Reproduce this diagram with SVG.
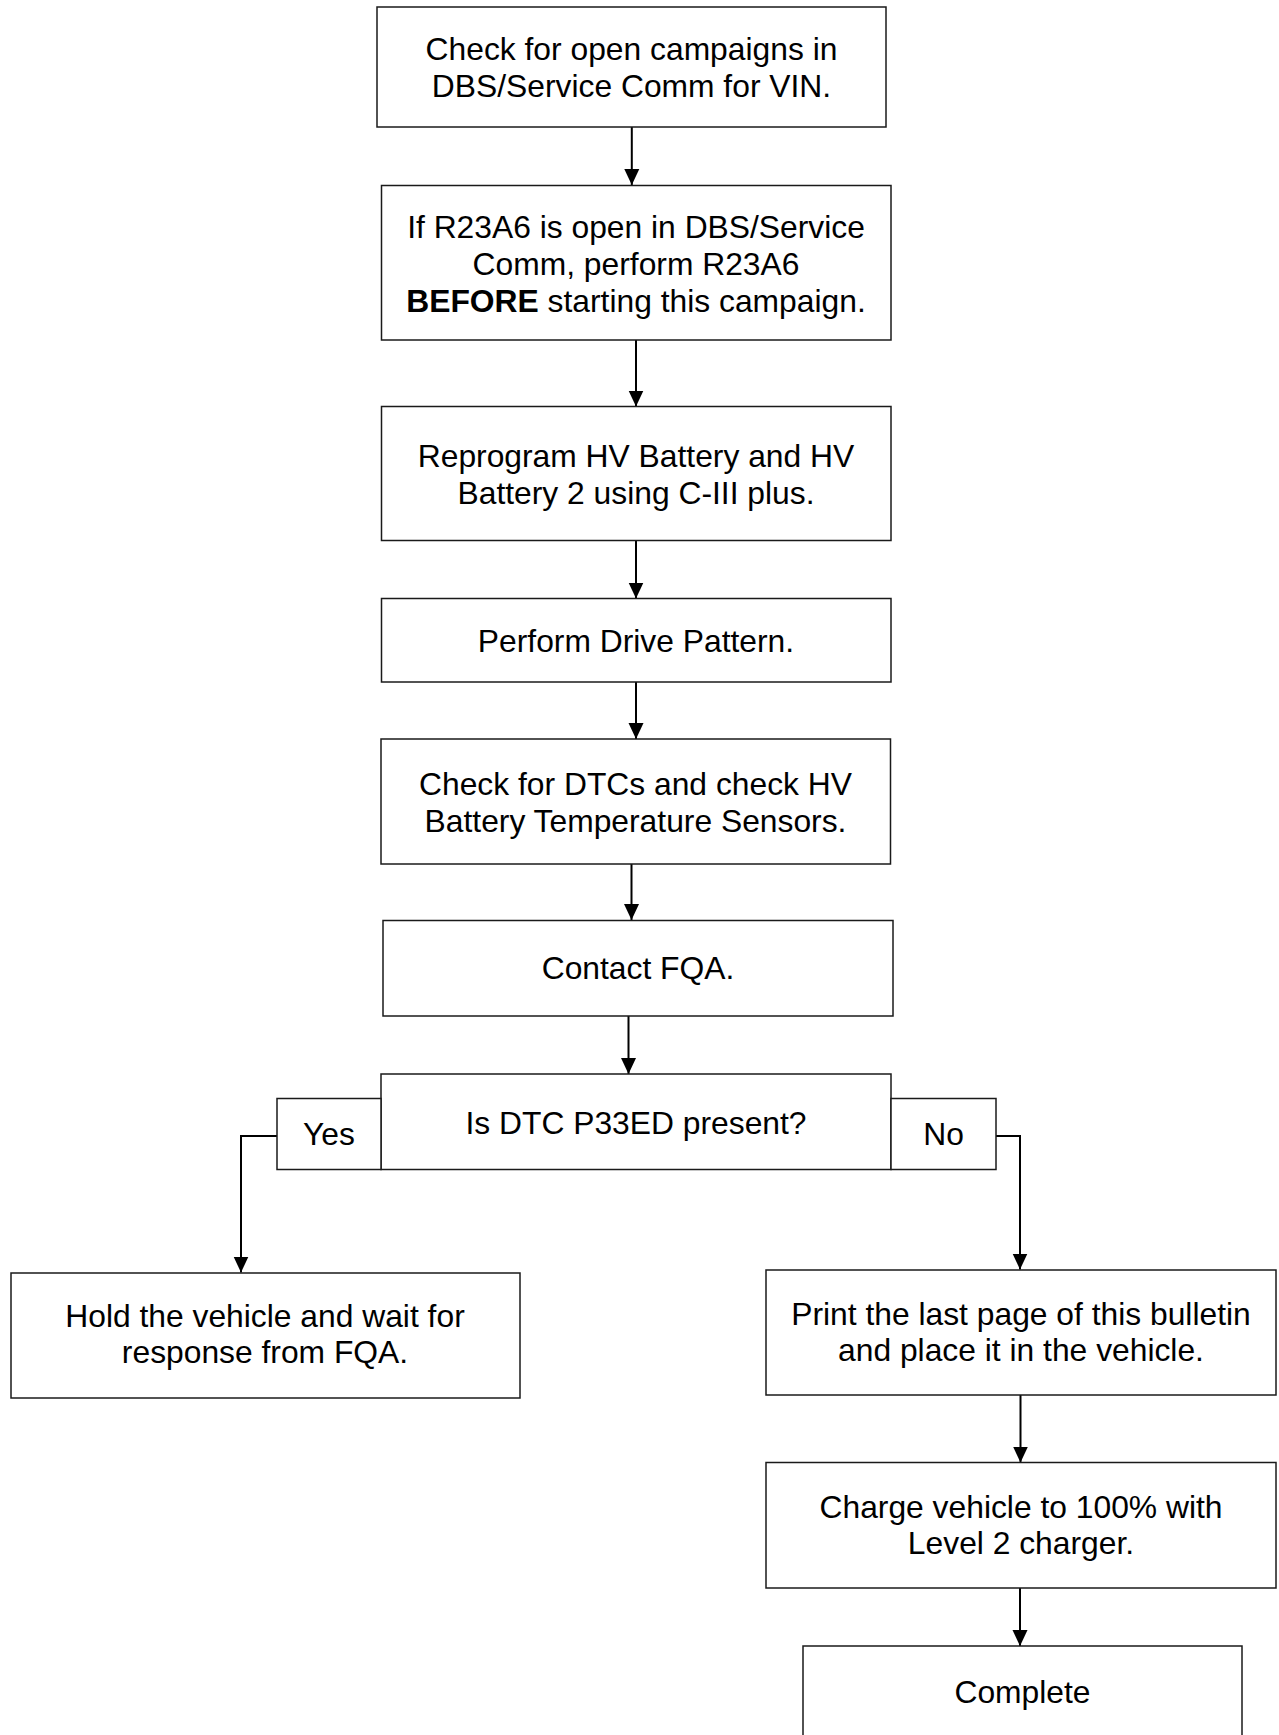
<svg xmlns="http://www.w3.org/2000/svg" width="1279" height="1735" viewBox="0 0 1279 1735">
<style>
.box{fill:#fff;stroke:#1a1a1a;stroke-width:1.5}
.t{font-family:"Liberation Sans",Arial,sans-serif;font-size:31.8px;fill:#000;text-anchor:middle}
.c{fill:none;stroke:#000;stroke-width:2}
</style>
<defs>
<marker id="arr" markerUnits="userSpaceOnUse" markerWidth="17" markerHeight="16" refX="16" refY="8" orient="auto" viewBox="0 0 17 16">
<path d="M0,0.5 L16,8 L0,15.5 Z" fill="#000"/>
</marker>
</defs>
<rect width="1279" height="1735" fill="#fff"/>
<g id="connectors">
<path class="c" d="M631.8,127 V185" marker-end="url(#arr)"/>
<path class="c" d="M636,340 V406.5" marker-end="url(#arr)"/>
<path class="c" d="M636,541 V598.5" marker-end="url(#arr)"/>
<path class="c" d="M636,682 V739" marker-end="url(#arr)"/>
<path class="c" d="M631.5,864 V920" marker-end="url(#arr)"/>
<path class="c" d="M628.5,1016 V1074" marker-end="url(#arr)"/>
<path class="c" d="M277,1136 H241 V1272.5" marker-end="url(#arr)"/>
<path class="c" d="M996,1136 H1020 V1269.5" marker-end="url(#arr)"/>
<path class="c" d="M1020.5,1395 V1462.5" marker-end="url(#arr)"/>
<path class="c" d="M1020,1588 V1646" marker-end="url(#arr)"/>
</g>
<g id="n1"><rect class="box" x="377" y="7" width="509" height="120"/>
<text class="t" x="631.5" y="60">Check for open campaigns in</text>
<text class="t" x="631.5" y="97">DBS/Service Comm for VIN.</text></g>
<g id="n2"><rect class="box" x="381.5" y="185.5" width="509.5" height="154.5"/>
<text class="t" x="636" y="238">If R23A6 is open in DBS/Service</text>
<text class="t" x="636" y="275">Comm, perform R23A6</text>
<text class="t" x="636" y="312"><tspan font-weight="bold">BEFORE</tspan> starting this campaign.</text></g>
<g id="n3"><rect class="box" x="381.5" y="406.5" width="509.5" height="134"/>
<text class="t" x="636" y="467">Reprogram HV Battery and HV</text>
<text class="t" x="636" y="504">Battery 2 using C-III plus.</text></g>
<g id="n4"><rect class="box" x="381.5" y="598.5" width="509.5" height="83.5"/>
<text class="t" x="636" y="652">Perform Drive Pattern.</text></g>
<g id="n5"><rect class="box" x="381" y="739" width="509.5" height="125"/>
<text class="t" x="635.5" y="795">Check for DTCs and check HV</text>
<text class="t" x="635.5" y="832">Battery Temperature Sensors.</text></g>
<g id="n6"><rect class="box" x="383" y="920.5" width="510" height="95.5"/>
<text class="t" x="638" y="979">Contact FQA.</text></g>
<g id="n7"><rect class="box" x="381" y="1074" width="510" height="95.5"/>
<text class="t" x="636" y="1134">Is DTC P33ED present?</text></g>
<g id="yes"><rect class="box" x="277" y="1098.5" width="104" height="71"/>
<text class="t" x="329" y="1145">Yes</text></g>
<g id="no"><rect class="box" x="891" y="1098.5" width="105" height="71"/>
<text class="t" x="943.5" y="1145">No</text></g>
<g id="n8"><rect class="box" x="11" y="1273" width="509" height="125"/>
<text class="t" x="265" y="1327">Hold the vehicle and wait for</text>
<text class="t" x="265" y="1363">response from FQA.</text></g>
<g id="n9"><rect class="box" x="766" y="1270" width="510" height="125"/>
<text class="t" x="1021" y="1325">Print the last page of this bulletin</text>
<text class="t" x="1021" y="1361">and place it in the vehicle.</text></g>
<g id="n10"><rect class="box" x="766" y="1462.5" width="510" height="125.5"/>
<text class="t" x="1021" y="1518">Charge vehicle to 100% with</text>
<text class="t" x="1021" y="1554">Level 2 charger.</text></g>
<g id="n11"><rect class="box" x="803" y="1646" width="439" height="120"/>
<text class="t" x="1022.5" y="1703">Complete</text></g>
</svg>
